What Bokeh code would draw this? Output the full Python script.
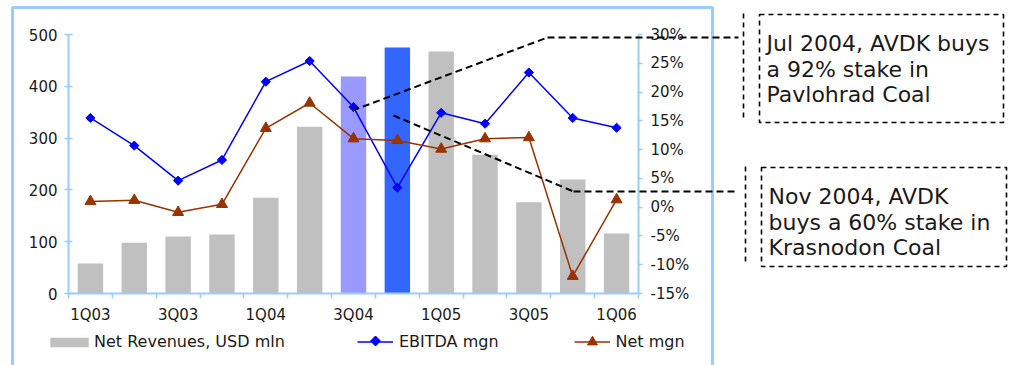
import math

from bokeh.embed import file_html
from bokeh.models import (Arrow, BoxAnnotation, ColumnDataSource, FixedTicker, Label,
                          Legend, LegendItem, LinearAxis, PolyAnnotation,
                          PrintfTickFormatter, Range1d)
from bokeh.plotting import figure
from bokeh.resources import INLINE

# ---- data -------------------------------------------------------------
quarters = ["1Q03", "2Q03", "3Q03", "4Q03", "1Q04", "2Q04", "3Q04",
            "4Q04", "1Q05", "2Q05", "3Q05", "4Q05", "1Q06"]
net_revenues = [58, 98, 110, 114, 185, 322, 419, 475, 467, 268, 176, 220, 116]   # USD mln
ebitda_mgn = [15.5, 10.7, 4.6, 8.2, 21.8, 25.4, 17.4, 3.4, 16.4, 14.5, 23.4, 15.5, 13.8]  # %
net_mgn = [1.0, 1.2, -0.9, 0.5, 13.7, 18.1, 11.9, 11.6, 10.1, 11.9, 12.1, -12.0, 1.3]     # %
labelled_quarters = ["1Q03", "3Q03", "1Q04", "3Q04", "1Q05", "3Q05", "1Q06"]
revenue_ticks = [0, 100, 200, 300, 400, 500]
margin_ticks = [-15, -10, -5, 0, 5, 10, 15, 20, 25, 30]
acquisition_notes = [
    ["Jul 2004, AVDK buys", "a 92% stake in", "Pavlohrad Coal"],
    ["Nov 2004, AVDK", "buys a 60% stake in", "Krasnodon Coal"],
]

# ---- styling ----------------------------------------------------------
FONT = "DejaVu Sans"
TEXT = "#1a1a1a"
FRAME_BLUE = "#99CCFF"
BAR_GREY = "#C0C0C0"
highlight = {"3Q04": "#9999FF", "4Q04": "#3366FF"}
EBITDA_BLUE = "#0000FF"
NET_BROWN = "#993300"

W, H = 1011, 365
L, R, T, B = 68, 638, 34, 293   # plot-area edges in page pixels


def extend(lo, hi, a, b, size):
    """Stretch the value span [lo, hi], which sits on pixels a..b, over 0..size."""
    per_px = (hi - lo) / (b - a)
    return lo - a * per_px, hi + (size - b) * per_px


def sx(px):
    return px


def sy(py):
    return H - py


n = len(quarters)
x_lo, x_hi = -0.5, n - 0.5
xs = list(range(n))
src = ColumnDataSource(dict(
    x=xs,
    rev=net_revenues,
    ebitda=ebitda_mgn,
    net=net_mgn,
    color=[highlight.get(q, BAR_GREY) for q in quarters],
))

# the drawing frame spans the whole canvas; the axes sit at fixed positions inside it
xr = extend(x_lo, x_hi, L, R, W)
yr = extend(revenue_ticks[-1], revenue_ticks[0], T, B, H)   # top value first (pixels grow downwards)
pr = extend(margin_ticks[-1], margin_ticks[0], T, B, H)

p = figure(width=W, height=H, output_backend="svg", toolbar_location=None,
           x_range=Range1d(*xr), y_range=Range1d(yr[1], yr[0]),
           x_axis_location=None, y_axis_location=None,
           min_border=0, min_border_left=0, min_border_right=0,
           min_border_top=0, min_border_bottom=0)
p.extra_y_ranges = {"pct": Range1d(pr[1], pr[0])}
p.outline_line_color = None
p.background_fill_color = "white"
p.border_fill_color = "white"
p.xgrid.visible = False
p.ygrid.visible = False

tick_font = dict(major_label_text_font=FONT, major_label_text_font_size="15px",
                 major_label_text_color=TEXT)

left_axis = LinearAxis(ticker=FixedTicker(ticks=revenue_ticks),
                       bounds=(revenue_ticks[0], revenue_ticks[-1]), fixed_location=x_lo,
                       axis_line_color=FRAME_BLUE, axis_line_width=2,
                       major_tick_line_color=FRAME_BLUE, major_tick_line_width=1.5,
                       major_tick_in=4, major_tick_out=4,
                       minor_tick_line_color=None, major_label_standoff=7, **tick_font)
p.add_layout(left_axis, "left")

right_axis = LinearAxis(y_range_name="pct", ticker=FixedTicker(ticks=margin_ticks),
                        bounds=(margin_ticks[0], margin_ticks[-1]), fixed_location=x_hi,
                        formatter=PrintfTickFormatter(format="%d%%"),
                        axis_line_color=FRAME_BLUE, axis_line_width=2,
                        major_tick_line_color=FRAME_BLUE, major_tick_line_width=1.5,
                        major_tick_in=0, major_tick_out=4,
                        minor_tick_line_color=None, major_label_standoff=8, **tick_font)
p.add_layout(right_axis, "right")

label_pos = [quarters.index(q) for q in labelled_quarters]
bottom_axis = LinearAxis(ticker=FixedTicker(ticks=label_pos,
                                            minor_ticks=[i - 0.5 for i in range(n + 1)]),
                         bounds=(x_lo, x_hi), fixed_location=revenue_ticks[0],
                         major_label_overrides={i: quarters[i] for i in label_pos},
                         axis_line_color=FRAME_BLUE, axis_line_width=2,
                         major_tick_line_color=None, major_tick_in=0, major_tick_out=0,
                         minor_tick_line_color=FRAME_BLUE, minor_tick_line_width=1.5,
                         minor_tick_in=0, minor_tick_out=5,
                         major_label_standoff=7, **tick_font)
p.add_layout(bottom_axis, "below")

# ---- series -----------------------------------------------------------
bars = p.vbar(x="x", top="rev", width=0.58, fill_color="color", line_color=None, source=src)

eb_line = p.line("x", "ebitda", y_range_name="pct", line_color=EBITDA_BLUE, line_width=1.5, source=src)
eb_pts = p.scatter("x", "ebitda", y_range_name="pct", marker="square", angle=math.pi / 4,
                   size=6.5, fill_color=EBITDA_BLUE, line_color=EBITDA_BLUE, source=src)

net_line = p.line("x", "net", y_range_name="pct", line_color=NET_BROWN, line_width=1.5, source=src)
net_pts = p.scatter("x", "net", y_range_name="pct", marker="triangle", size=11,
                    fill_color=NET_BROWN, line_color=NET_BROWN, source=src)

# ---- legends ----------------------------------------------------------
legend_style = dict(orientation="horizontal", padding=0, margin=0, border_line_color=None,
                    background_fill_alpha=0, label_text_font=FONT,
                    label_text_font_size="16px", label_text_color=TEXT)

bar_legend = Legend(items=[LegendItem(label="Net Revenues, USD mln", renderers=[bars], index=0)],
                    location=(sx(45), sy(351)), glyph_width=48, glyph_height=12,
                    label_height=12, label_standoff=1, **legend_style)
line_legend = Legend(items=[LegendItem(label="EBITDA mgn", renderers=[eb_line]),
                            LegendItem(label="Net mgn", renderers=[net_line, net_pts])],
                     location=(sx(357), sy(353.5)), glyph_width=36, glyph_height=25,
                     label_height=25, label_standoff=6, spacing=75, **legend_style)
p.add_layout(bar_legend)
p.add_layout(line_legend)

# diamond key for the EBITDA entry (legend keys do not turn markers)
kx, ky, kr = 375, 340.5, 5
p.add_layout(PolyAnnotation(xs=[sx(kx - kr), sx(kx), sx(kx + kr), sx(kx)],
                            ys=[sy(ky), sy(ky - kr), sy(ky), sy(ky + kr)],
                            xs_units="screen", ys_units="screen",
                            fill_color=EBITDA_BLUE, fill_alpha=1,
                            line_color=EBITDA_BLUE, line_alpha=1, line_width=1))

# ---- chart frame ------------------------------------------------------
screen = dict(left_units="screen", right_units="screen", top_units="screen", bottom_units="screen")
p.add_layout(BoxAnnotation(left=sx(12), right=sx(712), top=sy(7), bottom=sy(420), **screen,
                           fill_color=None, line_color=FRAME_BLUE, line_alpha=1, line_width=3))

# ---- acquisition call-outs -------------------------------------------
dash = dict(line_color="black", line_width=2, line_dash="7 4")


def seg(x0, y0, x1, y1, **kw):
    p.add_layout(Arrow(x_start=sx(x0), y_start=sy(y0), x_end=sx(x1), y_end=sy(y1),
                       start_units="screen", end_units="screen", start=None, end=None, **kw))


callouts = [
    # leader path, accent bar x, box (left, top, right, bottom), first baseline
    dict(path=[(352, 110), (547, 37), (738, 37)], bar=743, box=(759, 14, 1003, 122), text_y=43),
    dict(path=[(393, 115), (573, 191), (738, 191)], bar=745, box=(761, 167, 1006, 266), text_y=196),
]

for note, c in zip(acquisition_notes, callouts):
    pts = c["path"]
    for (x0, y0), (x1, y1) in zip(pts[:-1], pts[1:]):
        seg(x0, y0, x1, y1, **dash)
    bl, bt, br, bb = c["box"]
    seg(c["bar"], bt - 1, c["bar"], bb - 4, line_color="black", line_width=1.6, line_dash="5 4")
    p.add_layout(BoxAnnotation(left=sx(bl), right=sx(br), top=sy(bt), bottom=sy(bb), **screen,
                               fill_color=None, line_color="black", line_alpha=1,
                               line_width=1.6, line_dash="5 4"))
    for k, line in enumerate(note):
        p.add_layout(Label(x=sx(bl + 7), y=sy(c["text_y"] + 25.5 * k),
                           x_units="screen", y_units="screen", text=line,
                           text_font=FONT, text_font_size="22px", text_color=TEXT,
                           text_baseline="alphabetic", text_align="left"))

open("out.html", "w").write(file_html(p, INLINE))
